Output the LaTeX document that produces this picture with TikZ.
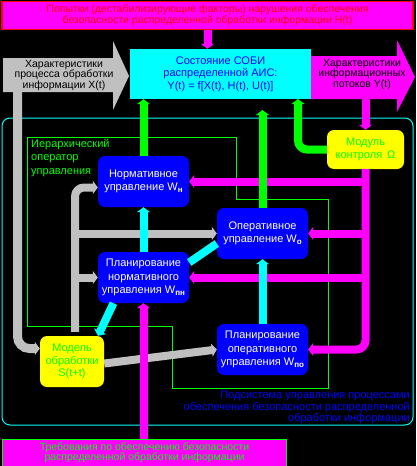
\documentclass[tikz,border=0pt]{standalone}
\usepackage{fontspec}
\setmainfont{Liberation Sans}
\usetikzlibrary{arrows.meta}
\definecolor{cmag}{RGB}{255,0,255}
\definecolor{ccy}{RGB}{0,255,255}
\definecolor{cgr}{RGB}{0,255,0}
\definecolor{cye}{RGB}{255,255,0}
\definecolor{cgy}{RGB}{192,192,192}
\definecolor{cbl}{RGB}{0,0,255}
\definecolor{cred}{RGB}{255,0,0}
\newcommand{\sbs}[1]{\raisebox{-0.35ex}{\fontsize{8}{8}\selectfont\bfseries #1}}
\begin{document}
\begin{tikzpicture}[x=1pt,y=-1pt,
  pipe/.style={line width=8pt},
  arr/.style={-{Triangle[length=5pt,width=13pt]}},
  bbox/.style={fill=cbl, rounded corners=7pt, text=white, align=center,
    minimum width=91pt, minimum height=51pt, inner sep=0pt,
    font=\fontsize{11}{13.5}\selectfont},
  ybox/.style={fill=cye, rounded corners=7pt, text=cgr, align=center,
    inner sep=0pt, font=\fontsize{11}{12.5}\selectfont},
  lbl/.style={inner sep=0pt, font=\fontsize{10.5}{10.5}\selectfont}
]
\fill[black] (0,0) rectangle (416,466);
\useasboundingbox (0,0) rectangle (416,466);

% frames
\draw[ccy, line width=1pt, rounded corners=8pt] (2,118) rectangle (413,425);
\draw[cgr, line width=1pt] (27,137) -- (236,137) -- (236,199) -- (328,199) -- (328,388)
  -- (172,388) -- (172,326) -- (27,326) -- cycle;
\node[lbl, text=cgr, align=left, anchor=north west, font=\fontsize{11}{13.5}\selectfont] (hier) at (31,139)
  {Иерархический\\оператор\\управления};
\node[lbl, text=cbl, align=right, anchor=north east, font=\fontsize{11}{9.8}\selectfont] (subsys) at (410,391)
  {Подсистема управления процессами\\обеспечения безопасности распределенной\\обработки информации};

% big arrows
\fill[cgy] (3,58) -- (113,58) -- (113,41) -- (129,76) -- (113,110) -- (113,92) -- (3,92) -- cycle;
\node[lbl, text=black, align=center] (xtext) at (64,75)
  {Характеристики\\процесса обработки\\информации X(t)};
\fill[cmag] (311,56) -- (397,56) -- (397,40) -- (415,77) -- (397,112) -- (397,99) -- (311,99) -- cycle;
\node[lbl, text=black, align=center] (ytext) at (362,74)
  {Характеристики\\информационных\\потоков Y(t)};
\coordinate (yout) at (365.5,99);
\coordinate (xout) at (17.5,92);

% boxes
\node[draw=cred, line width=1.5pt, fill=cmag, text=cred, align=center, minimum width=411pt,
  minimum height=28pt, inner sep=0pt, font=\fontsize{10.5}{11}\selectfont] (topbox) at (207.5,15.5)
  {Попытки (дестабилизирующие факторы) нарушения обеспечения\\безопасности распределенной обработки информации H(t)};
\node[fill=ccy, text=cbl, align=center, minimum width=181pt, minimum height=50pt, inner sep=0pt,
  font=\fontsize{11}{12.5}\selectfont] (state) at (220.5,74)
  {Состояние СОБИ\\распределенной АИС:\\Y(t) = f[X(t), H(t), U(t)]};
\node[draw=cgr, line width=1pt, fill=cmag, text=cgr, align=center, minimum width=284pt,
  minimum height=27pt, inner sep=0pt, font=\fontsize{10.5}{10.5}\selectfont] (botbox) at (144.5,452.5)
  {Требования по обеспечению безопасности\\распределенной обработки информации};

\node[bbox] (norm) at (143.5,181.5) {Нормативное\\управление W\sbs{н}};
\node[bbox] (oper) at (262.5,233.5) {Оперативное\\управление W\sbs{о}};
\node[bbox] (plnorm) at (143.5,277.5) {Планирование\\нормативного\\управления W\sbs{пн}};
\node[bbox] (ploper) at (262.5,349.5) {Планирование\\оперативного\\управления W\sbs{по}};
\node[ybox, minimum width=77pt, minimum height=39pt] (kontrol) at (365.5,149.5) {Модуль\\контроля \,Ω};
\node[ybox, minimum width=64pt, minimum height=51pt] (model) at (72,361.5) {Модель\\обработки\\S(t+t)};

% grey connectors
\coordinate (gt) at ([xshift=3pt]model.north);
\draw[pipe, line width=9pt, cgy, arr, rounded corners=12pt] (xout) -- (xout |- 0,348.5) -- ([yshift=13pt]model.west);
\draw[pipe, cgy, arr, rounded corners=9pt] ([yshift=4pt]gt) -- (gt |- 0,187.5) -- ([yshift=-6pt]norm.west);
\draw[pipe, cgy, arr] (gt |- oper.west) -- (oper.west);
\draw[pipe, cgy, arr] (gt |- plnorm.west) -- (plnorm.west);
\draw[pipe, cgy, arr] ([yshift=-2pt]model.east) -- (ploper.west);

% magenta connectors
\draw[pipe, cmag, arr] (topbox.south) -- (topbox.south |- state.north);
\draw[pipe, cmag, arr] (yout) -- (kontrol.north);
\draw[pipe, cmag, arr, rounded corners=9pt] (kontrol.south) -- (kontrol.south |- ploper.east) -- (ploper.east);
\draw[pipe, cmag, arr] (kontrol.south |- norm.east) -- (norm.east);
\draw[pipe, cmag, arr] (kontrol.south |- oper.east) -- (oper.east);
\draw[pipe, cmag, arr] (kontrol.south |- plnorm.east) -- (plnorm.east);
\draw[pipe, cmag, arr] (plnorm.south |- botbox.north) -- (plnorm.south);

% cyan connectors
\draw[pipe, ccy, arr] (plnorm.north) -- (norm.south);
\draw[pipe, ccy] ([yshift=15pt]plnorm.east) -- ([yshift=-10pt]oper.west);
\draw[pipe, ccy, arr] (ploper.north) -- (oper.south);
\draw[pipe, ccy, arr] ([xshift=-30pt]plnorm.south) -- ([xshift=26pt]model.north);

% green connectors
\coordinate (gend) at (262.5,110);
\draw[pipe, cgr, arr] (norm.north) -- (norm.north |- state.south);
\draw[pipe, cgr, arr] (oper.north) -- (gend);
\draw[pipe, cgr, arr, rounded corners=9pt] (kontrol.west) -- (298,149.5) -- (298,99);
\end{tikzpicture}
\end{document}
